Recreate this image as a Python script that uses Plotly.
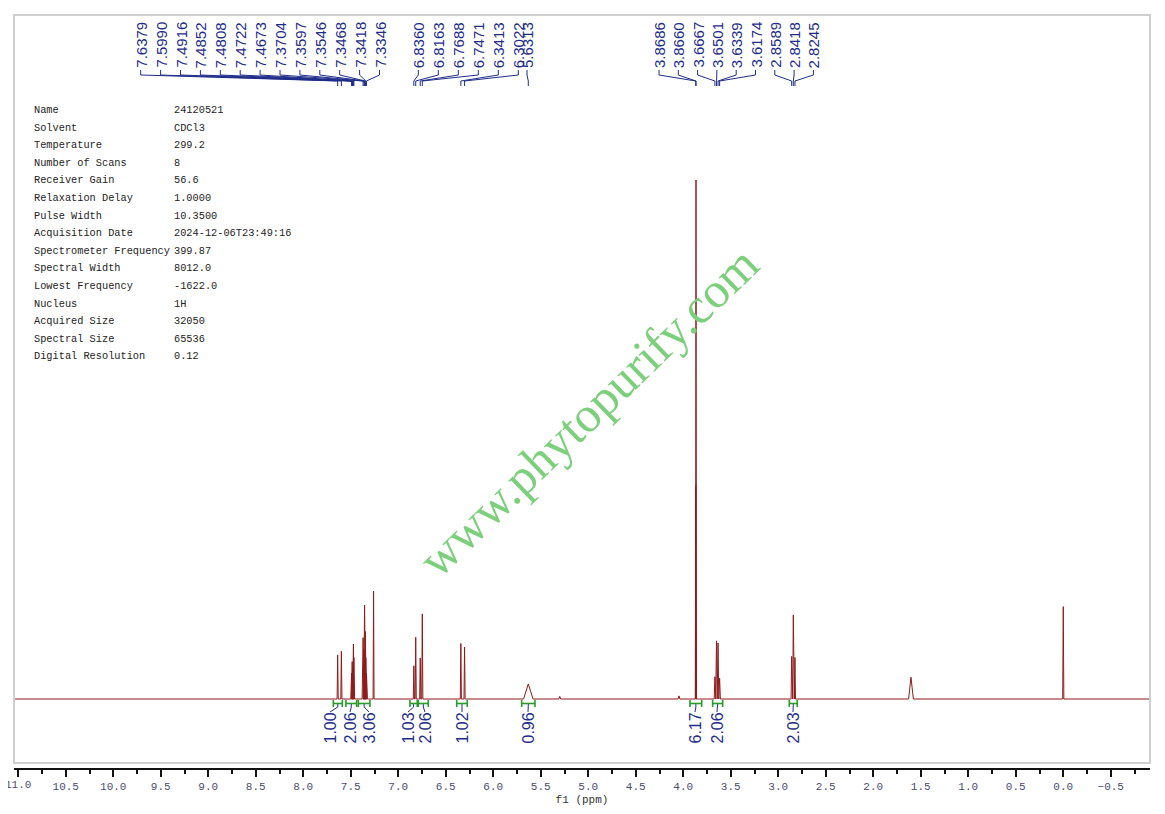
import plotly.graph_objects as go

# ---- spectrum data ----
# peak position (ppm), height (% of tallest line), half width at base (ppm)
peak_ppm = [7.6379, 7.5990, 7.4916, 7.4852, 7.4808, 7.4722, 7.4673,
            7.3704, 7.3597, 7.3546, 7.3468, 7.3418, 7.3346, 7.2600,
            6.8360, 6.8163, 6.7688, 6.7471, 6.3413, 6.3022, 5.6313,
            5.3000, 4.0450, 3.8686, 3.8660, 3.6667, 3.6501, 3.6339,
            3.6174, 2.8589, 2.8418, 2.8245, 1.6030, 0.0000]
peak_height = [8.5, 9.2, 5.0, 7.2, 6.0, 10.6, 8.0,
               11.8, 9.5, 18.1, 13.0, 8.0, 5.0, 20.8,
               6.4, 11.9, 7.9, 16.4, 10.7, 10.0, 2.9,
               0.5, 0.6, 41.2, 100.0, 4.3, 11.2, 10.8,
               4.0, 8.2, 16.2, 8.0, 4.2, 17.8]
peak_width = [0.006, 0.006, 0.008, 0.008, 0.008, 0.008, 0.008,
              0.010, 0.010, 0.010, 0.010, 0.010, 0.010, 0.005,
              0.006, 0.006, 0.006, 0.006, 0.006, 0.006, 0.050,
              0.010, 0.010, 0.005, 0.005, 0.008, 0.008, 0.008,
              0.008, 0.006, 0.006, 0.006, 0.025, 0.006]

# labelled peaks (top of the chart)
label_ppm = [7.6379, 7.5990, 7.4916, 7.4852, 7.4808, 7.4722, 7.4673,
             7.3704, 7.3597, 7.3546, 7.3468, 7.3418, 7.3346,
             6.8360, 6.8163, 6.7688, 6.7471, 6.3413, 6.3022, 5.6313,
             3.8686, 3.8660, 3.6667, 3.6501, 3.6339, 3.6174,
             2.8589, 2.8418, 2.8245]

# integrals
int_from = [7.684, 7.551, 7.421, 6.877, 6.789, 6.385, 5.701, 3.929, 3.691, 2.884]
int_to = [7.589, 7.438, 7.298, 6.800, 6.684, 6.274, 5.561, 3.806, 3.585, 2.800]
int_value = [1.00, 2.06, 3.06, 1.03, 2.06, 1.02, 0.96, 6.17, 2.06, 2.03]

# acquisition parameters
param_names = ["Name", "Solvent", "Temperature", "Number of Scans", "Receiver Gain",
               "Relaxation Delay", "Pulse Width", "Acquisition Date",
               "Spectrometer Frequency", "Spectral Width", "Lowest Frequency",
               "Nucleus", "Acquired Size", "Spectral Size", "Digital Resolution"]
param_values = ["24120521", "CDCl3", "299.2", "8", "56.6", "1.0000", "10.3500",
                "2024-12-06T23:49:16", "399.87", "8012.0", "-1622.0", "1H",
                "32050", "65536", "0.12"]

# ---- layout constants (screen pixels) ----
W, H = 1165, 814
BODY = 8                               # default page margin round the figure
PL, PR, PT, PB = 14, 1150, 15, 768     # plot area on screen
X_LEFT, X_RIGHT = 11.045, -0.913
BASE_PX, UNIT_PX = 699, 5.19          # baseline pixel, pixels per % height
Y_TOP = (BASE_PX - PT) / UNIT_PX
Y_BOT = (BASE_PX - PB) / UNIT_PX

LINE_RED = "#8e1b1b"
NAVY = "#1f2d8a"
GREEN = "#2a9a2a"
TICK_FONT = dict(family="Liberation Mono, monospace", size=11, color="#4b4b6e")

# top label slots: (first x px, step px, count)
LABEL_GROUPS = [(140.7, 19.9, 13), (418.3, 20.0, 6), (527.0, 0.0, 1), (659.0, 19.3, 9)]
INT_LABEL_PX = [330, 350, 369, 408, 425, 462, 528, 695, 717, 793]


def px2ppm(px):
    return X_LEFT + (px - PL) / (PR - PL) * (X_RIGHT - X_LEFT)


def py2y(py):
    return (BASE_PX - py) / UNIT_PX


def py2paper(py):
    return (PB - py) / (PB - PT)


fig = go.Figure()

# spectrum: each line drawn as a narrow peak on the baseline
order = sorted(range(len(peak_ppm)), key=lambda i: -peak_ppm[i])
sx, sy = [X_LEFT], [0.0]
for i in order:
    p, h, w = peak_ppm[i], peak_height[i], peak_width[i]
    sx += [p + w, p, p - w]
    sy += [0.0, h, 0.0]
sx.append(X_RIGHT)
sy.append(0.0)
fig.add_trace(go.Scatter(x=sx, y=sy, mode="lines", line=dict(color=LINE_RED, width=1),
                         hoverinfo="skip", showlegend=False))

# peak labels and connectors
slots = []
for start, step, n in LABEL_GROUPS:
    slots += [start + step * k for k in range(n)]
cx, cy = [], []
for v, spx in zip(label_ppm, slots):
    sx_ppm = px2ppm(spx)
    cx += [sx_ppm, sx_ppm, v, v, None]
    cy += [py2y(70), py2y(75), py2y(81), py2y(86), None]
    fig.add_annotation(x=sx_ppm, y=py2paper(69), xref="x", yref="paper",
                       text=f"{v:.4f}", textangle=-90, showarrow=False,
                       xanchor="center", yanchor="bottom", borderpad=0,
                       font=dict(family="Liberation Sans, Arial", size=15, color=NAVY))
fig.add_trace(go.Scatter(x=cx, y=cy, mode="lines", line=dict(color=NAVY, width=1),
                         hoverinfo="skip", showlegend=False))

# integral brackets and values
bx, by, lx, ly = [], [], [], []
for a, b, val, lpx in zip(int_from, int_to, int_value, INT_LABEL_PX):
    bx += [a, a, None, a, b, None, b, b, None]
    by += [py2y(700), py2y(707), None, py2y(703.5), py2y(703.5), None,
           py2y(700), py2y(707), None]
    mid = (a + b) / 2
    lppm = px2ppm(lpx)
    lx += [mid, mid, lppm, None]
    ly += [py2y(704), py2y(707), py2y(712), None]
    fig.add_annotation(x=lppm, y=py2paper(712), xref="x", yref="paper",
                       text=f"{val:.2f}", textangle=-90, showarrow=False,
                       xanchor="center", yanchor="top", borderpad=0,
                       font=dict(family="Liberation Sans, Arial", size=16, color=NAVY))
fig.add_trace(go.Scatter(x=lx, y=ly, mode="lines", line=dict(color=NAVY, width=1),
                         hoverinfo="skip", showlegend=False))
fig.add_trace(go.Scatter(x=bx, y=by, mode="lines", line=dict(color=GREEN, width=1.6),
                         hoverinfo="skip", showlegend=False))

# parameter table
for k, (name, val) in enumerate(zip(param_names, param_values)):
    ypx = 110 + 17.6 * k
    for txt, xpx in ((name, 32), (val, 172)):
        fig.add_annotation(x=(xpx - PL) / (PR - PL), y=py2paper(ypx), xref="paper", yref="paper",
                           text=txt, showarrow=False, xanchor="left", yanchor="middle",
                           font=dict(family="Liberation Mono, monospace", size=10.3, color="#222222"))

# watermark
fig.add_annotation(x=(588 - PL) / (PR - PL), y=py2paper(412), xref="paper", yref="paper",
                   text="www.phytopurify.com", textangle=-44, showarrow=False,
                   font=dict(family="Liberation Serif, Times New Roman", size=50, color="#7dcf7d"))

# the 11.0 tick label sits partly off the page; plotly drops it, so add it by hand
fig.add_annotation(x=11.0, y=py2paper(785), xref="x", yref="paper", text="11.0",
                   showarrow=False, xanchor="center", yanchor="middle", font=TICK_FONT)

# frame
fig.add_shape(type="rect", xref="paper", yref="paper", x0=0, x1=1,
              y0=py2paper(763), y1=1, line=dict(color="#cfcfcf", width=2))

fig_w, fig_h = W - 2 * BODY, H - 2 * BODY
fig.update_layout(
    width=fig_w, height=fig_h,
    margin=dict(l=PL - BODY, r=fig_w - (PR - BODY), t=PT - BODY, b=fig_h - (PB - BODY)),
    paper_bgcolor="white", plot_bgcolor="white",
    showlegend=False,
    xaxis=dict(range=[X_LEFT, X_RIGHT], showgrid=False, zeroline=False, automargin=False,
               showline=True, linecolor="#111111", linewidth=2,
               ticks="outside", ticklen=7, tickwidth=2, tickcolor="#111111",
               tick0=0, dtick=0.5, tickformat=".1f",
               minor=dict(dtick=0.25, ticks="outside", ticklen=4, tickwidth=1.5, tickcolor="#111111"),
               tickfont=TICK_FONT,
               title=dict(text="f1 (ppm)", standoff=4,
                          font=dict(family="Liberation Mono, monospace", size=11, color="#333333"))),
    yaxis=dict(range=[Y_BOT, Y_TOP], visible=False),
)

fig.write_html("out.html")
